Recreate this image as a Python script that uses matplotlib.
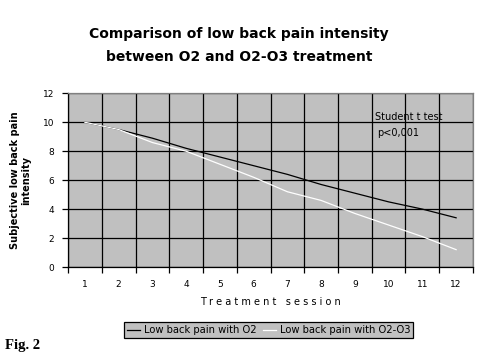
import numpy as np
import matplotlib.pyplot as plt
from matplotlib.ticker import FixedLocator

sessions = [1, 2, 3, 4, 5, 6, 7, 8, 9, 10, 11, 12]
pain_o2 = [10, 9.5, 8.9, 8.2, 7.6, 7.0, 6.4, 5.7, 5.1, 4.5, 4.0, 3.4]
pain_o2o3 = [10, 9.5, 8.6, 8.0, 7.1, 6.2, 5.2, 4.6, 3.7, 2.9, 2.1, 1.2]
labels = ["Low back pain with O2", "Low back pain with O2-O3"]

fig = plt.figure(figsize=(4.8, 3.6), dpi=100)
fig.set_facecolor("white")
ax = fig.add_axes([0.1417, 0.2583, 0.8437, 0.4825])
ax.set_facecolor("#c0c0c0")

ax.plot(sessions, pain_o2, color="black", lw=0.9, label=labels[0], zorder=3)
ax.plot(sessions, pain_o2o3, color="white", lw=0.9, label=labels[1], zorder=4)

ax.set_xlim(0.5, 12.5)
ax.set_ylim(0, 12)
ax.set_xticks(sessions)
ax.set_xticklabels([str(s) for s in sessions], fontsize=6.5)
ax.xaxis.set_minor_locator(FixedLocator(np.arange(0.5, 13, 1)))
ax.tick_params(axis="x", which="major", length=0, pad=9)
ax.tick_params(axis="x", which="minor", length=4, width=0.9, direction="out")
ax.set_yticks(range(0, 13, 2))
ax.tick_params(axis="y", labelsize=6.5, length=4, width=0.9, pad=6)
ax.grid(True, which="minor", axis="x", color="black", lw=0.9)
ax.grid(True, which="major", axis="y", color="black", lw=0.9)
ax.set_axisbelow(True)

for side in ["top", "right"]:
    ax.spines[side].set_color("#808080")
    ax.spines[side].set_linewidth(0.9)
for side in ["left", "bottom"]:
    ax.spines[side].set_linewidth(0.9)

ax.set_xlabel("T r e a t m e n t   s e s s i o n", fontsize=7, labelpad=6)
ax.set_ylabel("Subjective low back pain\nintensity", fontsize=7,
              fontweight="bold", labelpad=8, linespacing=1.15)

ax.text(0.758, 0.866, "Student t test", transform=ax.transAxes,
        fontsize=7, va="center")
ax.text(0.763, 0.773, "p<0,001", transform=ax.transAxes,
        fontsize=7, va="center")

fig.text(0.498, 0.905, "Comparison of low back pain intensity",
         ha="center", va="center", fontsize=10, fontweight="bold")
fig.text(0.498, 0.843, "between O2 and O2-O3 treatment",
         ha="center", va="center", fontsize=10, fontweight="bold")

leg = fig.legend(loc="center", bbox_to_anchor=(0.56, 0.083), ncol=2,
                 fontsize=7.2, frameon=True, fancybox=False,
                 handlelength=1.3, handletextpad=0.4, columnspacing=0.6,
                 borderpad=0.3, borderaxespad=0)
leg.get_frame().set_facecolor("#c0c0c0")
leg.get_frame().set_edgecolor("black")
leg.get_frame().set_linewidth(0.9)
leg.get_frame().set_alpha(1)

fig.text(0.01, 0.03, "Fig. 2", fontsize=10.5, fontweight="bold",
         family="Liberation Serif")

fig.savefig("out.png", dpi=100)
